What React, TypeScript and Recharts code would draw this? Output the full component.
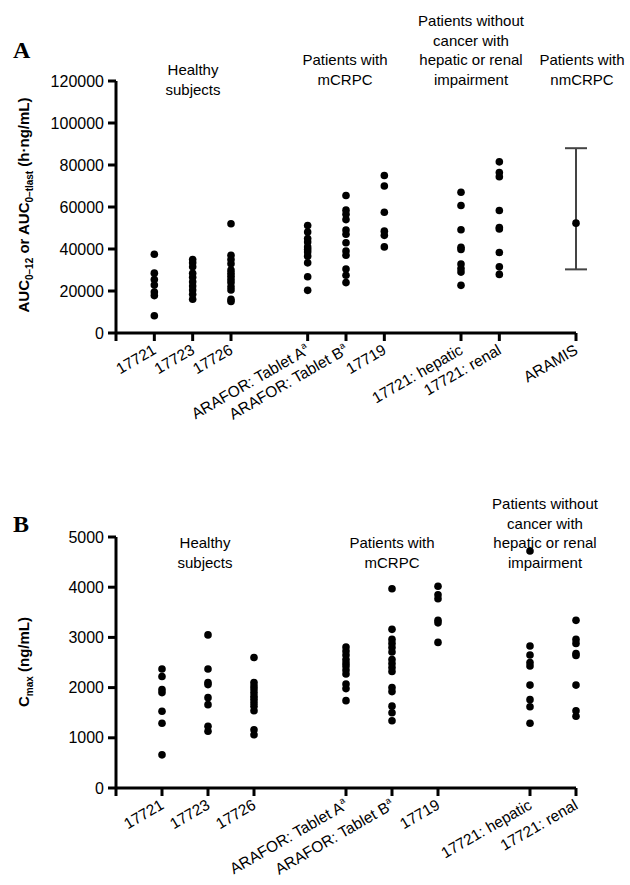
import React from 'react';
import { ScatterChart, Scatter, XAxis, YAxis, ErrorBar } from 'recharts';

const FONT = '"Liberation Sans", Arial, Helvetica, sans-serif';

// ---------- Panel A: AUC ----------
const aucTicksY = [0, 20000, 40000, 60000, 80000, 100000, 120000];
const aucPositions = [0, 1, 2, 3, 5, 6, 7, 9, 10, 12];
const aucLabels = ['', '17721', '17723', '17726', 'ARAFOR: Tablet A', 'ARAFOR: Tablet B', '17719', '17721: hepatic', '17721: renal', 'ARAMIS'];
const aucSups = ['', '', '', '', 'a', 'a', '', '', '', ''];

const auc17721 = [37500, 28500, 25500, 22800, 19500, 17800, 8200];
const auc17723 = [35000, 33400, 31500, 28400, 26500, 24400, 22400, 20500, 18400, 16100];
const auc17726 = [52000, 37000, 35000, 33000, 30000, 28500, 27000, 25500, 24000, 22000, 20500, 16000, 15000];
const aucArafA = [51200, 48100, 45000, 43300, 41000, 39800, 38600, 36600, 33400, 26800, 20300];
const aucArafB = [65500, 58500, 56500, 54000, 49000, 47000, 43000, 39000, 37000, 30500, 27500, 24000];
const auc17719 = [75000, 70000, 57500, 48500, 46500, 41000];
const aucHepatic = [67000, 60700, 49200, 40800, 39800, 32800, 30700, 29000, 22700];
const aucRenal = [81500, 76400, 74400, 58300, 50200, 49500, 38300, 31500, 27900];
const aramisMean = 52300;
const aramisLow = 30300;
const aramisHigh = 88000;

// ---------- Panel B: Cmax ----------
const cmaxTicksY = [0, 1000, 2000, 3000, 4000, 5000];
const cmaxPositions = [0, 1, 2, 3, 5, 6, 7, 9, 10];
const cmaxLabels = ['', '17721', '17723', '17726', 'ARAFOR: Tablet A', 'ARAFOR: Tablet B', '17719', '17721: hepatic', '17721: renal'];
const cmaxSups = ['', '', '', '', 'a', 'a', '', '', ''];

const cmax17721 = [2370, 2220, 1960, 1900, 1530, 1290, 660];
const cmax17723 = [3050, 2370, 2100, 2060, 1800, 1660, 1230, 1130];
const cmax17726 = [2600, 2100, 2030, 1970, 1900, 1830, 1770, 1700, 1630, 1540, 1160, 1060];
const cmaxArafA = [2810, 2730, 2650, 2560, 2490, 2430, 2350, 2270, 2070, 1980, 1740];
const cmaxArafB = [3970, 3160, 2960, 2880, 2800, 2710, 2560, 2480, 2400, 2320, 2000, 1920, 1630, 1500, 1340];
const cmax17719 = [4020, 3850, 3770, 3340, 3290, 2900];
const cmaxHepatic = [4720, 2830, 2650, 2500, 2430, 2050, 1760, 1620, 1290];
const cmaxRenal = [3340, 2960, 2880, 2680, 2640, 2050, 1540, 1430];

const toPoints = (groups: [number, number[]][]) =>
  groups.flatMap(([pos, vals]) => vals.map((v) => ({ x: pos, y: v })));

const aucPoints = toPoints([
  [1, auc17721], [2, auc17723], [3, auc17726], [5, aucArafA], [6, aucArafB],
  [7, auc17719], [9, aucHepatic], [10, aucRenal],
]);
const aramisPoints = [{ x: 12, y: aramisMean, err: [aramisMean - aramisLow, aramisHigh - aramisMean] }];

const cmaxPoints = toPoints([
  [1, cmax17721], [2, cmax17723], [3, cmax17726], [5, cmaxArafA], [6, cmaxArafB],
  [7, cmax17719], [9, cmaxHepatic], [10, cmaxRenal],
]);

const Dot = (p: any) => <circle cx={p.cx} cy={p.cy} r={3.8} fill="#000" />;

const makeTick = (positions: number[], labels: string[], sups: string[]) => (props: any) => {
  const { x, y, payload } = props;
  const i = positions.indexOf(payload.value);
  const text = i >= 0 ? labels[i] : '';
  if (!text) return <g />;
  const sup = sups[i];
  return (
    <g transform={`translate(${x + 3},${y + 10})`}>
      <text x={0} y={0} textAnchor="end" transform="rotate(-30)" fontSize={15.5} fontFamily={FONT} fill="#000">
        {text}
        {sup ? <tspan fontSize={9} dy={-7}>{sup}</tspan> : null}
      </text>
    </g>
  );
};

const axisLine = { stroke: '#000', strokeWidth: 3 };
const tickLine = { stroke: '#000', strokeWidth: 3 };
const yTickStyle = { fontSize: 16, fontFamily: FONT, fill: '#000' };

const GroupLabel = ({ x, y, lines }: { x: number; y: number; lines: string[] }) => (
  <text x={x} y={y} textAnchor="middle" fontSize={15} fontFamily={FONT} fill="#000">
    {lines.map((l, i) => (
      <tspan key={i} x={x} dy={i === 0 ? 0 : 19.5}>{l}</tspan>
    ))}
  </text>
);

export default function App() {
  return (
    <div style={{ position: 'absolute', left: 0, top: 0, width: 630, height: 885, background: '#fff' }}>
      <div style={{ position: 'absolute', left: 0, top: 0 }}>
        <ScatterChart width={630} height={440} margin={{ top: 81, right: 54, left: 0, bottom: 7 }}>
          <XAxis
            type="number"
            dataKey="x"
            domain={[0, 12]}
            ticks={aucPositions}
            interval={0}
            height={100}
            axisLine={axisLine}
            tickLine={tickLine}
            tickSize={8}
            tick={makeTick(aucPositions, aucLabels, aucSups)}
          />
          <YAxis
            type="number"
            dataKey="y"
            domain={[0, 120000]}
            ticks={aucTicksY}
            interval={0}
            width={116}
            axisLine={axisLine}
            tickLine={tickLine}
            tickSize={8}
            tickMargin={4}
            tick={yTickStyle}
            allowDataOverflow
          />
          <Scatter data={aucPoints} shape={Dot} isAnimationActive={false} />
          <Scatter data={aramisPoints} shape={Dot} isAnimationActive={false}>
            <ErrorBar dataKey="err" direction="y" width={11} stroke="#444" strokeWidth={2} />
          </Scatter>
        </ScatterChart>
      </div>
      <div style={{ position: 'absolute', left: 0, top: 440 }}>
        <ScatterChart width={630} height={445} margin={{ top: 97, right: 54, left: 0, bottom: 7 }}>
          <XAxis
            type="number"
            dataKey="x"
            domain={[0, 10]}
            ticks={cmaxPositions}
            interval={0}
            height={90}
            axisLine={axisLine}
            tickLine={tickLine}
            tickSize={8}
            tick={makeTick(cmaxPositions, cmaxLabels, cmaxSups)}
          />
          <YAxis
            type="number"
            dataKey="y"
            domain={[0, 5000]}
            ticks={cmaxTicksY}
            interval={0}
            width={116}
            axisLine={axisLine}
            tickLine={tickLine}
            tickSize={8}
            tickMargin={4}
            tick={yTickStyle}
            allowDataOverflow
          />
          <Scatter data={cmaxPoints} shape={Dot} isAnimationActive={false} />
        </ScatterChart>
      </div>
      <svg width={630} height={885} style={{ position: 'absolute', left: 0, top: 0, pointerEvents: 'none' }}>
        <text x={13} y={58} fontSize={24} fontWeight="bold" fontFamily='"Liberation Serif", "Times New Roman", serif'>A</text>
        <text x={13} y={532} fontSize={24} fontWeight="bold" fontFamily='"Liberation Serif", "Times New Roman", serif'>B</text>

        <GroupLabel x={193} y={75} lines={['Healthy', 'subjects']} />
        <GroupLabel x={345} y={65} lines={['Patients with', 'mCRPC']} />
        <GroupLabel x={471} y={26} lines={['Patients without', 'cancer with', 'hepatic or renal', 'impairment']} />
        <GroupLabel x={582} y={65} lines={['Patients with', 'nmCRPC']} />

        <GroupLabel x={205} y={548} lines={['Healthy', 'subjects']} />
        <GroupLabel x={392} y={548} lines={['Patients with', 'mCRPC']} />
        <GroupLabel x={545} y={509} lines={['Patients without', 'cancer with', 'hepatic or renal', 'impairment']} />

        <text transform="translate(29,205) rotate(-90)" textAnchor="middle" fontSize={15} fontWeight="bold" fontFamily={FONT} fill="#000">
          AUC<tspan fontSize={10} dy={4}>0–12</tspan>
          <tspan dy={-4}> or AUC</tspan>
          <tspan fontSize={10} dy={4}>0–tlast</tspan>
          <tspan dy={-4}> (h·ng/mL)</tspan>
        </text>
        <text transform="translate(29,662) rotate(-90)" textAnchor="middle" fontSize={15} fontWeight="bold" fontFamily={FONT} fill="#000">
          C<tspan fontSize={10} dy={4}>max</tspan>
          <tspan dy={-4}> (ng/mL)</tspan>
        </text>
      </svg>
    </div>
  );
}
